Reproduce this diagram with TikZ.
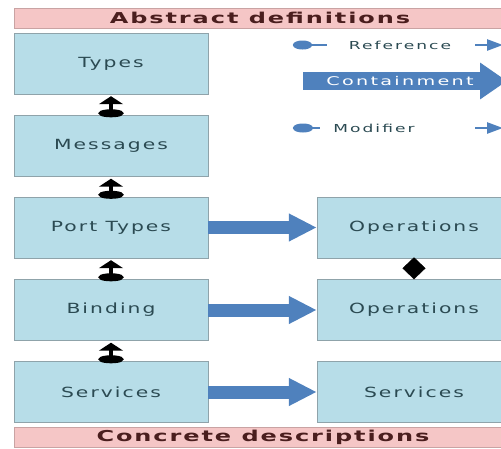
\documentclass[tikz,border=0pt]{standalone}
\usepackage{fontspec}
\setmainfont{DejaVu Sans}
\newfontfamily\boxfont[LetterSpace=10]{DejaVu Sans}
\newfontfamily\barfont[LetterSpace=8]{DejaVu Sans}
\newfontfamily\keyfont[LetterSpace=12]{DejaVu Sans}
\usetikzlibrary{arrows.meta}
\definecolor{boxblue}{HTML}{B7DDE8}
\definecolor{boxline}{HTML}{8FA3AA}
\definecolor{boxtext}{HTML}{2B4A52}
\definecolor{barpink}{HTML}{F5C6C6}
\definecolor{barline}{HTML}{C9A3A3}
\definecolor{bartext}{HTML}{4A1E1E}
\definecolor{arrowblue}{HTML}{4F81BD}
\newcommand{\widetxt}[2][1.45]{\scalebox{#1}[1]{#2}}
\tikzset{
  block/.style={draw=boxline, fill=boxblue, text=boxtext, inner sep=0pt,
    minimum width=194pt, minimum height=61pt, font=\boxfont\fontsize{14}{16}\selectfont},
  band/.style={draw=barline, fill=barpink, text=bartext, inner sep=0pt, anchor=north west,
    minimum width=494pt, minimum height=20pt},
  bandtext/.style={text=bartext, inner sep=0pt, font=\barfont\bfseries\fontsize{15}{17}\selectfont},
  key/.style={text=boxtext, inner sep=0pt, font=\keyfont\fontsize{11}{13}\selectfont},
  contains/.style={draw=arrowblue, line width=13pt, -{Triangle[width=26pt,length=28pt]}},
  refers/.style={line width=4pt, shorten <=-2pt, shorten >=2pt,
    {Ellipse[width=24pt,length=8pt]}-{Triangle[width=24pt,length=8pt]}},
}
\begin{document}
\begin{tikzpicture}[x=1pt, y=-1pt]
\useasboundingbox (0,0) rectangle (501,448);
\clip (0,0) rectangle (501,448);
% bands
\node[band] (abs) at (14,8) {};
\node[bandtext] (abstxt) at (260,18) {\widetxt[1.6]{Abstract definitions}};
\node[band] (con) at (14,427) {};
\node[bandtext] (contxt) at (263,437) {\widetxt[1.6]{Concrete descriptions}};
% left column
\node[block] (types) at (111,63.5) {\widetxt{Types}};
\node[block] (msg) at (111,146) {\widetxt{Messages}};
\node[block] (port) at (111,227.5) {\widetxt{Port Types}};
\node[block] (bind) at (111,310) {\widetxt{Binding}};
\node[block] (serv) at (111,392) {\widetxt{Services}};
% right column
\node[block] (op1) at (414,227.5) {\widetxt{Operations}};
\node[block] (op2) at (414,310) {\widetxt{Operations}};
\node[block] (serv2) at (414,392) {\widetxt{Services}};
% references
\draw[refers] (msg.north) -- (types.south);
\draw[refers] (port.north) -- (msg.south);
\draw[refers] (bind.north) -- (port.south);
\draw[refers] (serv.north) -- (bind.south);
% containment
\draw[contains] (port.east) -- (op1.west);
\draw[contains] (bind.east) -- (op2.west);
\draw[contains] (serv.east) -- (serv2.west);
% modifier
\draw[-{Diamond[width=23pt,length=22pt]}] (op1.south) -- (op2.north);
% legend
\node[key] (ref) at (400,45) {\widetxt[1.55]{Reference}};
\coordinate (r1) at (293,45);
\coordinate (r2) at (327,45);
\coordinate (r3) at (475,45);
\coordinate (r4) at (503,45);
\draw[arrowblue, line width=2.5pt, {Ellipse[length=19pt,width=9pt]}-] (r1) -- (r2);
\draw[arrowblue, line width=2.5pt, -{Triangle[length=16pt,width=11pt]}] (r3) -- (r4);
\coordinate (c1) at (303,81);
\coordinate (c2) at (507,81);
\draw[contains, line width=18pt, -{Triangle[width=35pt,length=27pt]}] (c1) -- (c2);
\node[key, text=white, font=\keyfont\fontsize{12}{14}\selectfont] (cont) at (400,81) {\widetxt[1.6]{Containment}};
\node[key] (mod) at (374,128) {\widetxt[1.55]{Modifier}};
\coordinate (m1) at (293,128);
\coordinate (m2) at (320,128);
\coordinate (m3) at (475,128);
\coordinate (m4) at (503,128);
\draw[arrowblue, line width=2.5pt, {Ellipse[length=20pt,width=9pt]}-] (m1) -- (m2);
\draw[arrowblue, line width=2.5pt, -{Triangle[length=16pt,width=11pt]}] (m3) -- (m4);
\end{tikzpicture}
\end{document}
